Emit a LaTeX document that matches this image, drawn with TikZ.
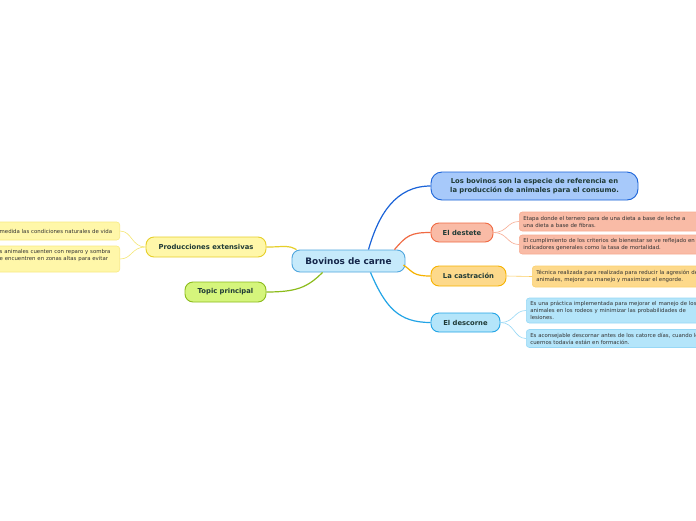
\documentclass[tikz,border=0pt]{standalone}
\usepackage{fontspec}
\setmainfont{DejaVu Sans}
\usepackage{tikz}
\usetikzlibrary{positioning}
\definecolor{txtdark}{HTML}{1F3A36}
\definecolor{txtnavy}{HTML}{14264A}
\definecolor{cenfill}{HTML}{C6EAFB}
\definecolor{cenline}{HTML}{4FA6DE}
\definecolor{reffill}{HTML}{A7C9FA}
\definecolor{refline}{HTML}{1A63D8}
\definecolor{desfill}{HTML}{F9BBA6}
\definecolor{desline}{HTML}{F06A43}
\definecolor{casfill}{HTML}{FDD98B}
\definecolor{casline}{HTML}{F6B200}
\definecolor{dcrfill}{HTML}{B4E5FA}
\definecolor{dcrline}{HTML}{22A4E6}
\definecolor{profill}{HTML}{FFF7A9}
\definecolor{proline}{HTML}{E6CF2A}
\definecolor{topfill}{HTML}{D5F57C}
\definecolor{topline}{HTML}{8CBC1C}
\tikzset{
  mainbox/.style={draw, line width=0.9pt, rounded corners=8pt, inner sep=0pt,
                  align=center, text=txtdark, font=\fontsize{6.8}{8.6}\selectfont\bfseries},
  subbox/.style={draw, line width=0.6pt, rounded corners=3pt, inner xsep=4pt, inner ysep=0pt,
                 align=left, text=black!80, font=\fontsize{5.4}{7}\selectfont},
  bigconn/.style={line width=1.2pt},
  smallconn/.style={line width=0.6pt}
}
\begin{document}
\begin{tikzpicture}[x=1pt, y=-1pt]
  \useasboundingbox (0,0) rectangle (696,520);
  \clip (0,0) rectangle (696,520);
  \fill[white] (0,0) rectangle (696,520);
  % central topic
  \node[mainbox, fill=cenfill, draw=cenline, text=txtnavy, minimum width=113pt, minimum height=22pt,
        font=\fontsize{8.9}{10}\selectfont\bfseries] (central) at (348.5,261) {Bovinos de carne};
  % main topics
  \node[mainbox, fill=reffill, draw=refline, rounded corners=11pt, minimum width=207pt, minimum height=28pt]
        (ref) at (534.5,186) {Los bovinos son la especie de referencia en\\la producción de animales para el consumo.};
  \node[mainbox, fill=desfill, draw=desline, minimum width=62pt, minimum height=19pt] (destete) at (462,232.5) {El destete};
  \node[mainbox, fill=casfill, draw=casline, minimum width=75pt, minimum height=20pt] (castra) at (468.5,276) {La castración};
  \node[mainbox, fill=dcrfill, draw=dcrline, minimum width=69pt, minimum height=19pt] (descorne) at (465.5,322.5) {El descorne};
  \node[mainbox, fill=profill, draw=proline, minimum width=120pt, minimum height=20pt] (prodext) at (206,247) {Producciones extensivas};
  \node[mainbox, fill=topfill, draw=topline, minimum width=81pt, minimum height=20pt] (topic) at (225.5,292) {Topic principal};
  % subtopics
  \node[subbox, fill=desfill, draw=desfill!80!desline, anchor=west, text width=200pt, minimum height=19pt]
        (destA) at (519,221.5) {Etapa donde el ternero para de una dieta a base de leche a\\una dieta a base de fibras.};
  \node[subbox, fill=desfill, draw=desfill!80!desline, anchor=west, text width=200pt, minimum height=19pt]
        (destB) at (519,244.5) {El cumplimiento de los criterios de bienestar se ve reflejado en\\indicadores generales como la tasa de mortalidad.};
  \node[subbox, fill=casfill, draw=casfill!80!casline, anchor=west, text width=200pt, minimum height=21pt]
        (castA) at (532,276.5) {Técnica realizada para realizada para reducir la agresión de los\\animales, mejorar su manejo y maximizar el engorde.};
  \node[subbox, fill=dcrfill, draw=dcrfill!80!dcrline, anchor=west, text width=200pt, minimum height=25pt]
        (descA) at (526,310.5) {Es una práctica implementada para mejorar el manejo de los\\animales en los rodeos y minimizar las probabilidades de\\lesiones.};
  \node[subbox, fill=dcrfill, draw=dcrfill!80!dcrline, anchor=west, text width=200pt, minimum height=18pt]
        (descB) at (526,338.5) {Es aconsejable descornar antes de los catorce días, cuando los\\cuernos todavía están en formación.};
  \node[subbox, fill=profill, draw=profill!70!proline, anchor=east, text width=116pt, minimum height=18pt]
        (prodA) at (120,231) {medida las condiciones naturales de vida};
  \node[subbox, fill=profill, draw=profill!70!proline, anchor=east, text width=116pt, minimum height=26pt]
        (prodB) at (120,259) {s animales cuenten con reparo y sombra\\e encuentren en zonas altas para evitar\\\strut};
  % connectors from the central topic
  \draw[bigconn, draw=refline] ([xshift=20pt]central.north) .. controls +(10,-35) and +(-35,0) .. (ref.west);
  \draw[bigconn, draw=desline] ([xshift=46pt]central.north) .. controls +(12,-14) and +(-20,0) .. (destete.west);
  \draw[bigconn, draw=casline] ([xshift=-2pt,yshift=-4pt]central.east) .. controls +(10,7) and +(-18,0) .. (castra.west);
  \draw[bigconn, draw=dcrline] ([xshift=22pt]central.south) .. controls +(15,35) and +(-32,0) .. (descorne.west);
  \draw[bigconn, draw=proline] ([xshift=-52pt]central.north) .. controls +(-10,-5) and +(20,0) .. (prodext.east);
  \draw[bigconn, draw=topline] ([xshift=-26pt]central.south) .. controls +(-15,15) and +(30,0) .. (topic.east);
  % connectors to the subtopics
  \draw[smallconn, draw=desfill!80!desline] (destete.east) .. controls +(14,0) and +(-12,0) .. (destA.west);
  \draw[smallconn, draw=desfill!80!desline] (destete.east) .. controls +(14,0) and +(-12,0) .. (destB.west);
  \draw[smallconn, draw=casfill!70!casline] (castra.east) -- (castA.west);
  \draw[smallconn, draw=dcrfill!80!dcrline] (descorne.east) .. controls +(14,0) and +(-12,0) .. (descA.west);
  \draw[smallconn, draw=dcrfill!80!dcrline] (descorne.east) .. controls +(14,0) and +(-12,0) .. (descB.west);
  \draw[smallconn, draw=profill!60!proline] (prodext.west) .. controls +(-14,0) and +(12,0) .. (prodA.east);
  \draw[smallconn, draw=profill!60!proline] (prodext.west) .. controls +(-14,0) and +(12,0) .. (prodB.east);
\end{tikzpicture}
\end{document}
